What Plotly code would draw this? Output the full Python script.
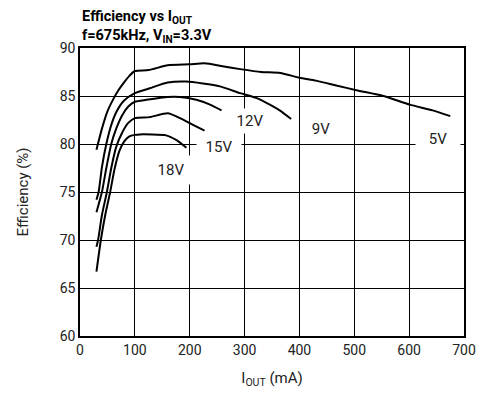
import plotly.graph_objects as go

# ---- data ----
x_5v = [30, 40, 50, 60, 70, 80, 90, 100, 125, 160, 200, 227, 260, 292, 330, 365, 400, 430, 467, 504, 553, 601, 643, 675]
y_5v = [79.4, 81.6, 83.4, 84.6, 85.6, 86.4, 87.1, 87.6, 87.7, 88.2, 88.3, 88.4, 88.1, 87.8, 87.5, 87.4, 86.9, 86.6, 86.1, 85.6, 85.0, 84.1, 83.5, 82.9]

x_9v = [30, 34, 40, 48, 56, 66, 80, 100, 127, 160, 194, 224, 255, 292, 321, 346, 364, 385]
y_9v = [74.2, 75.0, 77.6, 80.0, 81.8, 83.3, 84.5, 85.3, 85.8, 86.4, 86.5, 86.3, 86.0, 85.3, 84.8, 84.1, 83.5, 82.6]

x_12v = [30, 40, 48, 57, 66, 77, 88, 100, 121, 160, 182, 212, 237, 258]
y_12v = [72.9, 75.0, 77.5, 80.0, 81.6, 83.0, 83.9, 84.4, 84.6, 84.9, 84.9, 84.6, 84.1, 83.5]

x_15v = [30, 33, 40, 49, 57, 66, 77, 88, 100, 127, 160, 182, 206, 227]
y_15v = [69.3, 70.0, 72.6, 75.0, 77.5, 79.7, 81.2, 82.2, 82.7, 82.8, 83.2, 82.7, 82.0, 81.4]

x_18v = [30, 38, 46, 55, 63, 72, 81, 90, 100, 109, 157, 176, 194]
y_18v = [66.7, 70.0, 72.6, 75.0, 77.4, 79.3, 80.3, 80.8, 80.95, 81.0, 80.9, 80.4, 79.6]

series_names = ["5V", "9V", "12V", "15V", "18V"]
series_x = [x_5v, x_9v, x_12v, x_15v, x_18v]
series_y = [y_5v, y_9v, y_12v, y_15v, y_18v]

# label positions (data coords)
label_x = [652, 440, 309, 253, 165]
label_y = [80.5, 81.6, 82.4, 79.7, 77.3]
label_w = [44, 26, 32, 44, 44]
label_h = [24, 20, 24, 24, 28]

x_ticks = [0, 100, 200, 300, 400, 500, 600, 700]
y_ticks = [60, 65, 70, 75, 80, 85, 90]

FONT = "Roboto, Liberation Sans, sans-serif"

fig = go.Figure()
for name, xs, ys in zip(series_names, series_x, series_y):
    fig.add_trace(go.Scatter(x=xs, y=ys, mode="lines", name=name,
                             line=dict(color="black", width=2, shape="spline", smoothing=0.6),
                             showlegend=False, hoverinfo="skip"))

for name, lx, ly, w, h in zip(series_names, label_x, label_y, label_w, label_h):
    fig.add_annotation(x=lx, y=ly, text=name, showarrow=False,
                       font=dict(family=FONT, size=15, color="#222"),
                       bgcolor="white", width=w, height=h, borderpad=0,
                       xanchor="center", yanchor="middle")

fig.add_annotation(xref="paper", yref="paper", x=0, y=1, yshift=20,
                   xanchor="left", yanchor="bottom", showarrow=False,
                   text="<b>Efficiency vs I<sub>OUT</sub></b>",
                   font=dict(family=FONT, size=14.5, color="black"))
fig.add_annotation(xref="paper", yref="paper", x=0, y=1, yshift=1,
                   xanchor="left", yanchor="bottom", showarrow=False,
                   text="<b>f=675kHz, V<sub>IN</sub>=3.3V</b>",
                   font=dict(family=FONT, size=14.5, color="black"))

axis_common = dict(showgrid=True, gridcolor="black", gridwidth=1.3,
                   showline=True, linecolor="black", linewidth=1.5, mirror=True,
                   ticks="", zeroline=False, automargin=False,
                   tickfont=dict(family=FONT, size=14, color="#222"))

fig.update_xaxes(range=[0, 700], tickvals=x_ticks, ticktext=[str(v) for v in x_ticks],
                 title=dict(text="I<sub>OUT</sub> (mA)", font=dict(family=FONT, size=15, color="#222"), standoff=16),
                 **axis_common)
fig.update_yaxes(range=[60, 90], tickvals=y_ticks, ticktext=[str(v) for v in y_ticks],
                 title=dict(text="Efficiency (%)", font=dict(family=FONT, size=15, color="#222"), standoff=27),
                 **axis_common)

fig.update_layout(width=482, height=398, margin=dict(l=80, r=18, t=48, b=62),
                  plot_bgcolor="white", paper_bgcolor="white")

fig.write_html("out.html")
